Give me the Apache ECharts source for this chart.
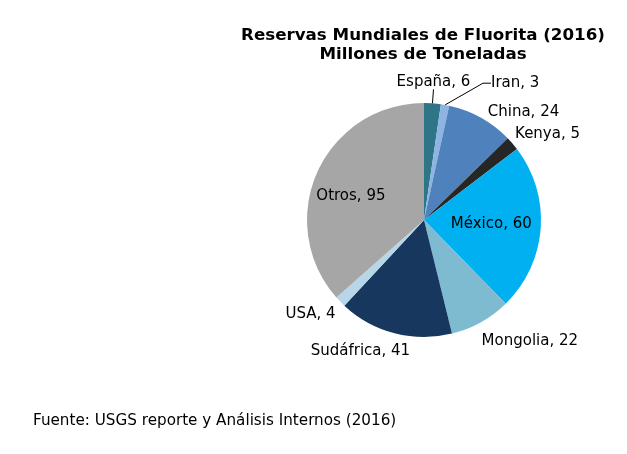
<!DOCTYPE html>
<html>
<head>
<meta charset="utf-8">
<script src="https://cdn.jsdelivr.net/npm/echarts@6/dist/echarts.min.js"></script>
<style>
  html, body { margin: 0; padding: 0; background: #fff; }
  #chart { width: 627px; height: 454px; }
</style>
</head>
<body>
<div id="chart"></div>
<script>
const countries = ["España", "Iran", "China", "Kenya", "México", "Mongolia", "Sudáfrica", "USA", "Otros"];
const reserves = [6, 3, 24, 5, 60, 22, 41, 4, 95];
const sliceColors = ["#2F7487", "#8DB4E2", "#4F81BD", "#262626", "#00B0F0", "#7EBAD0", "#17375E", "#B7D7E8", "#A6A6A6"];

// how each label sits: inside the slice, outside with a leader line, or plain outside
const labelMode = ["line", "line", "out", "out", "in", "out", "out", "out", "in"];
const lineLen = [14, 16, 6, 6, 0, 18, 14, 8, 0];
const lineLen2 = [0, 8, 0, 0, 0, 0, 0, 0, 0];
// small nudges so the labels land where the original put them
const labelNudge = {
    "Iran": [31, -6],
    "Kenya": [-6, -5],
    "México": [6, 0],
    "Mongolia": [-12, 3],
    "Sudáfrica": [23, 4],
    "USA": [5, 7],
    "Otros": [-17, 1]
};

const chart = echarts.init(document.getElementById("chart"));
const font = "'DejaVu Sans', sans-serif";

const pieData = countries.map((name, i) => {
    const item = {
        name: name,
        value: reserves[i],
        itemStyle: { color: sliceColors[i] },
        labelLine: { show: labelMode[i] === "line", length: lineLen[i], length2: lineLen2[i] }
    };
    if (labelMode[i] === "in") {
        item.label = { position: "inner" };
    }
    return item;
});

chart.setOption({
    animation: false,
    title: [
        {
            text: "Reservas Mundiales de Fluorita (2016)\nMillones de Toneladas",
            left: 423,
            top: 26,
            padding: 0,
            textAlign: "center",
            textStyle: { fontFamily: font, fontSize: 16.7, fontWeight: "bold", color: "#000", lineHeight: 19 }
        },
        {
            text: "Fuente: USGS reporte y Análisis Internos (2016)",
            left: 33,
            top: 414,
            padding: 0,
            textStyle: { fontFamily: font, fontSize: 15.2, fontWeight: "normal", color: "#000" }
        }
    ],
    series: [{
        type: "pie",
        center: [424, 220],
        radius: 117,
        startAngle: 90,
        clockwise: true,
        avoidLabelOverlap: false,
        label: {
            show: true,
            position: "outside",
            formatter: "{b}, {c}",
            fontFamily: font,
            fontSize: 15,
            color: "#000",
            distanceToLabelLine: 4
        },
        labelLine: { lineStyle: { color: "#000", width: 1 } },
        labelLayout: function (params) {
            if (params.dataIndex === 0 && params.labelLinePoints) {
                const end = params.labelLinePoints[params.labelLinePoints.length - 1];
                return { x: end[0], y: end[1], align: "center", verticalAlign: "bottom" };
            }
            const nudge = labelNudge[countries[params.dataIndex]];
            if (!nudge) return {};
            const r = params.labelRect;
            return { x: r.x + nudge[0], y: r.y + nudge[1], align: "left", verticalAlign: "top" };
        },
        emphasis: { disabled: true },
        data: pieData
    }]
});
</script>
</body>
</html>
